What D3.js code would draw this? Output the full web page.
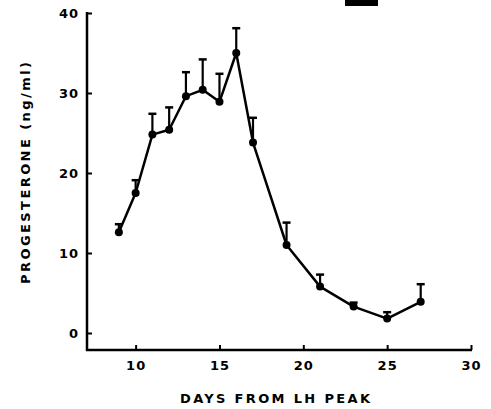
<!DOCTYPE html>
<html>
<head>
<meta charset="utf-8">
<script src="https://cdn.jsdelivr.net/npm/d3@7"></script>
<style>
  html, body { margin: 0; padding: 0; background: #fff; }
  svg text { font-family: "DejaVu Sans", sans-serif; font-weight: bold; fill: #000; }
</style>
</head>
<body>
<div id="chart-container"></div>
<script>
// values
const days = [9, 10, 11, 12, 13, 14, 15, 16, 17, 19, 21, 23, 25, 27];
const progesterone = [12.6, 17.5, 24.8, 25.4, 29.6, 30.4, 28.9, 35.0, 23.8, 11.0, 5.8, 3.3, 1.8, 3.9];
const errorTop = [13.6, 19.1, 27.4, 28.2, 32.6, 34.2, 32.4, 38.1, 26.9, 13.8, 7.3, 3.8, 2.6, 6.1];
const xTicks = [10, 15, 20, 25, 30];
const yTicks = [0, 10, 20, 30, 40];

const width = 491, height = 409;
const axisBottomY = 350;

const svg = d3.select("#chart-container")
  .append("svg")
  .attr("width", width)
  .attr("height", height);

const x = d3.scaleLinear().domain([7.1, 30]).range([87, 471]);
const y = d3.scaleLinear().domain([0, 40]).range([333, 13]);

// y axis: ticks pointing inward, own spine reaching the x axis
const yAxis = svg.append("g")
  .attr("transform", `translate(${x(7.1)},0)`)
  .call(d3.axisLeft(y).tickValues(yTicks).tickSizeInner(-5).tickSizeOuter(0).tickPadding(8));
yAxis.select(".domain").remove();
yAxis.selectAll(".tick line").attr("stroke", "#000").attr("stroke-width", 2);
yAxis.selectAll(".tick text")
  .style("font-size", "13px")
  .attr("letter-spacing", "1px");

svg.append("line")
  .attr("x1", x(7.1)).attr("x2", x(7.1))
  .attr("y1", y(40) - 1).attr("y2", axisBottomY + 1)
  .attr("stroke", "#000").attr("stroke-width", 2.5);

// x axis
const xAxis = svg.append("g")
  .attr("transform", `translate(0,${axisBottomY})`)
  .call(d3.axisBottom(x).tickValues(xTicks).tickSizeInner(-5).tickSizeOuter(0).tickPadding(11));
xAxis.select(".domain").remove();
xAxis.selectAll(".tick line").attr("stroke", "#000").attr("stroke-width", 2);
xAxis.selectAll(".tick text")
  .style("font-size", "13px")
  .attr("letter-spacing", "1px");

svg.append("line")
  .attr("x1", x(7.1) - 1).attr("x2", x(30) + 1)
  .attr("y1", axisBottomY).attr("y2", axisBottomY)
  .attr("stroke", "#000").attr("stroke-width", 2.5);

// axis titles
svg.append("text")
  .attr("x", 275)
  .attr("y", 403)
  .attr("text-anchor", "middle")
  .attr("textLength", 190)
  .attr("lengthAdjust", "spacing")
  .style("font-size", "13px")
  .text("DAYS FROM LH PEAK");

svg.append("text")
  .attr("transform", "translate(30,173) rotate(-90)")
  .attr("text-anchor", "middle")
  .attr("textLength", 222)
  .attr("lengthAdjust", "spacing")
  .style("font-size", "13px")
  .text("PROGESTERONE (ng/ml)");

// small black block at top (cropped figure label)
svg.append("rect")
  .attr("x", 345).attr("y", 0)
  .attr("width", 33).attr("height", 6)
  .attr("fill", "#000");

const data = days.map((d, i) => ({ day: d, value: progesterone[i], top: errorTop[i] }));

// error bars (upper only)
const bars = svg.append("g");
bars.selectAll("line.err")
  .data(data)
  .enter().append("line")
  .attr("class", "err")
  .attr("x1", d => x(d.day)).attr("x2", d => x(d.day))
  .attr("y1", d => y(d.value)).attr("y2", d => y(d.top))
  .attr("stroke", "#000").attr("stroke-width", 2.2);

bars.selectAll("line.cap")
  .data(data)
  .enter().append("line")
  .attr("class", "cap")
  .attr("x1", d => x(d.day) - 4).attr("x2", d => x(d.day) + 4)
  .attr("y1", d => y(d.top)).attr("y2", d => y(d.top))
  .attr("stroke", "#000").attr("stroke-width", 2.5);

// mean line
const line = d3.line().x(d => x(d.day)).y(d => y(d.value));
svg.append("path")
  .datum(data)
  .attr("d", line)
  .attr("fill", "none")
  .attr("stroke", "#000")
  .attr("stroke-width", 2.5)
  .attr("stroke-linejoin", "round");

svg.append("g").selectAll("circle")
  .data(data)
  .enter().append("circle")
  .attr("cx", d => x(d.day))
  .attr("cy", d => y(d.value))
  .attr("r", 4)
  .attr("fill", "#000");
</script>
</body>
</html>
